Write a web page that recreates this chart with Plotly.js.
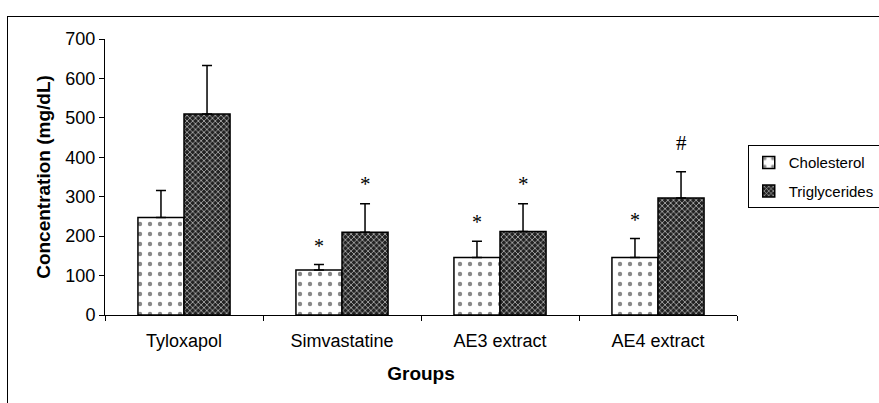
<!DOCTYPE html>
<html><head><meta charset="utf-8">
<script src="https://cdn.plot.ly/plotly-3.0.1.min.js"></script>
<style>
html,body{margin:0;padding:0;background:#fff;}
#wrap{position:relative;width:879px;height:403px;overflow:hidden;}
#chart{width:879px;height:403px;}
#frame{position:absolute;left:7px;top:16px;width:900px;height:420px;border:1.5px solid #000;pointer-events:none;}
</style></head>
<body>
<div id="wrap"><div id="chart"></div><div id="frame"></div></div>
<script>
const groups = ["Tyloxapol", "Simvastatine", "AE3 extract", "AE4 extract"];
const cholesterol = [247, 114, 146, 146];
const cholesterolErr = [69, 14, 41, 48];
const triglycerides = [510, 210, 212, 297];
const triglyceridesErr = [123, 72, 70, 66];
const cholesterolMarks = ["", "*", "*", "*"];
const triglyceridesMarks = ["", "*", "*", "#"];
const yTicks = [0, 100, 200, 300, 400, 500, 600, 700];

const zeros = groups.map(() => 0);
const traces = [
  {
    type: "bar", name: "Cholesterol", x: groups, y: cholesterol, legendgroup: "c",
    marker: { color: "#fff", line: { color: "#000", width: 1.5 },
      pattern: { shape: ".", fgcolor: "#888", bgcolor: "#fff", size: 10, solidity: 0.15 } },
    error_y: { type: "data", array: cholesterolErr, arrayminus: zeros, symmetric: false, color: "#000", thickness: 1.5, width: 5 }
  },
  {
    type: "bar", name: "Triglycerides", x: groups, y: triglycerides, legendgroup: "t",
    marker: { color: "#333", line: { color: "#000", width: 1.5 },
      pattern: { shape: "x", fgcolor: "#bbb", bgcolor: "#222", size: 4, solidity: 0.35 } },
    error_y: { type: "data", array: triglyceridesErr, arrayminus: zeros, symmetric: false, color: "#000", thickness: 1.5, width: 5 }
  }
];

const annotations = [];
groups.forEach((g, i) => {
  if (cholesterolMarks[i]) annotations.push({
    x: g, y: cholesterol[i] + cholesterolErr[i], xref: "x", yref: "y", xshift: -23, yshift: 6,
    yanchor: "bottom", showarrow: false, text: cholesterolMarks[i],
    font: { family: "Liberation Serif, Times New Roman, serif", size: 20, color: "#000" }
  });
  if (triglyceridesMarks[i]) annotations.push({
    x: g, y: triglycerides[i] + triglyceridesErr[i], xref: "x", yref: "y", xshift: 23, yshift: triglyceridesMarks[i] === "#" ? 15 : 6,
    yanchor: "bottom", showarrow: false, text: triglyceridesMarks[i],
    font: { family: "Liberation Serif, Times New Roman, serif", size: 21, color: "#000" }
  });
});

const layout = {
  width: 879, height: 403,
  margin: { l: 105, r: 142, t: 39, b: 88, pad: 0, autoexpand: false },
  paper_bgcolor: "#fff", plot_bgcolor: "#fff",
  font: { family: "Liberation Sans, Arial, sans-serif", size: 18, color: "#000" },
  barmode: "group", bargap: 0.417, bargroupgap: 0,
  showlegend: true,
  legend: { x: 1.017, y: 0.615, xanchor: "left", yanchor: "top", bordercolor: "#000", borderwidth: 1,
    font: { size: 15 }, tracegroupgap: 6, itemwidth: 30 },
  xaxis: {
    type: "category", showline: true, linecolor: "#000", linewidth: 1,
    ticks: "outside", tickson: "boundaries", ticklen: 5, tickcolor: "#000",
    showgrid: false, zeroline: false, tickfont: { size: 18 }, ticklabelstandoff: 9,
    title: { text: "<b>Groups</b>", font: { size: 19 }, standoff: 17 }
  },
  yaxis: {
    range: [0, 700], tickvals: yTicks, showline: true, linecolor: "#000", linewidth: 1,
    ticks: "outside", ticklen: 5, tickcolor: "#000", showgrid: false, zeroline: false,
    tickfont: { size: 18 },
    title: { text: "<b>Concentration (mg/dL)</b>", font: { size: 19 }, standoff: 9 }
  },
  annotations: annotations
};

Plotly.newPlot("chart", traces, layout, { displayModeBar: false, staticPlot: true });
</script>
</body></html>
